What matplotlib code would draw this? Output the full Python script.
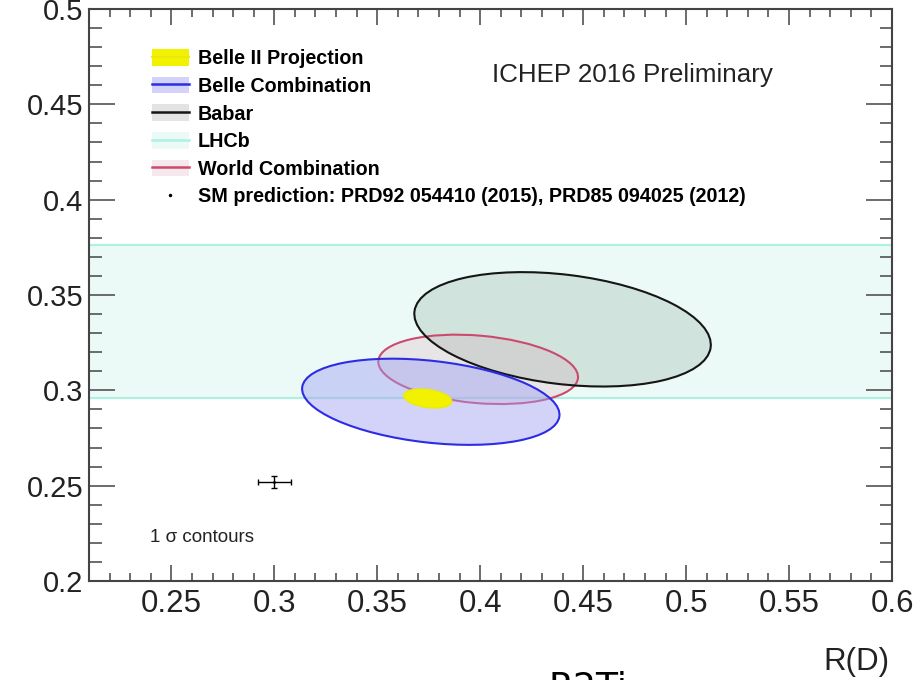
import numpy as np
import matplotlib
matplotlib.use('Agg')
import matplotlib.pyplot as plt
from matplotlib.patches import Ellipse, Patch
from matplotlib.lines import Line2D
from matplotlib.ticker import MultipleLocator, FuncFormatter

plt.rcParams['font.family'] = ['Liberation Sans', 'DejaVu Sans']

# 1 sigma contours: R(D) centre / error, R(D*) centre / error, correlation
belle2 = [0.3745, 0.0117, 0.2957, 0.0050, -0.30]
belle = [0.376, 0.0625, 0.2940, 0.0226, -0.30]
babar = [0.440, 0.072, 0.332, 0.030, -0.27]
world = [0.399, 0.0485, 0.3110, 0.0182, -0.22]

# LHCb only measures R(D*)
lhcb_rdst = 0.336
lhcb_err = 0.040

# SM prediction
sm_rd, sm_rd_err = 0.300, 0.008
sm_rdst, sm_rdst_err = 0.252, 0.003

labels = ['Belle II Projection', 'Belle Combination', 'Babar', 'LHCb',
          'World Combination',
          'SM prediction: PRD92 054410 (2015), PRD85 094025 (2012)']


def cov_ellipse(par, **kw):
    cx, sx, cy, sy, rho = par
    cov = np.array([[sx * sx, rho * sx * sy], [rho * sx * sy, sy * sy]])
    vals, vecs = np.linalg.eigh(cov)
    order = vals.argsort()[::-1]
    vals, vecs = vals[order], vecs[:, order]
    angle = np.degrees(np.arctan2(vecs[1, 0], vecs[0, 0]))
    return Ellipse((cx, cy), 2 * np.sqrt(vals[0]), 2 * np.sqrt(vals[1]),
                   angle=angle, **kw)


fig = plt.figure(figsize=(9.16, 6.8), dpi=100)
ax = fig.add_axes([89 / 916, 99 / 680, 803 / 916, 572 / 680])
ax.set_xlim(0.21, 0.6)
ax.set_ylim(0.2, 0.5)

# colours: fill, edge
c_b2 = ('#f2f200', '#eaea10')
c_belle = ('#9f9ff2', '#2c2ce6')
c_babar = ('#96b4a6', '#151515')
c_lhcb = ('#d6f6ef', '#aef0e2')
c_world = ('#d8a4b4', '#cc4a6e')

# LHCb band
ax.axhspan(lhcb_rdst - lhcb_err, lhcb_rdst + lhcb_err, color=c_lhcb[0],
           alpha=0.45, lw=0, zorder=1)
ax.axhline(lhcb_rdst - lhcb_err, color=c_lhcb[1], lw=1.6, zorder=1.5)
ax.axhline(lhcb_rdst + lhcb_err, color=c_lhcb[1], lw=1.6, zorder=1.5)

ax.add_patch(cov_ellipse(babar, facecolor=c_babar[0], alpha=0.32,
                         edgecolor='none', zorder=2))
ax.add_patch(cov_ellipse(babar, facecolor='none', edgecolor=c_babar[1],
                         lw=1.5, zorder=4))
ax.add_patch(cov_ellipse(world, facecolor=c_world[0], alpha=0.24,
                         edgecolor='none', zorder=3))
ax.add_patch(cov_ellipse(world, facecolor='none', edgecolor=c_world[1],
                         lw=1.5, zorder=3.5))
ax.add_patch(cov_ellipse(belle, facecolor=c_belle[0], alpha=0.45,
                         edgecolor='none', zorder=5))
ax.add_patch(cov_ellipse(belle, facecolor='none', edgecolor=c_belle[1],
                         lw=1.5, zorder=5.5))
ax.add_patch(cov_ellipse(belle2, facecolor=c_b2[0], edgecolor=c_b2[1],
                         lw=1.0, zorder=6))

ax.errorbar(sm_rd, sm_rdst, xerr=sm_rd_err, yerr=sm_rdst_err, fmt='.',
            color='k', ms=2, elinewidth=1.0, capsize=2.5, capthick=1.0,
            zorder=7)

# legend: filled box with the contour line through it
handles = [
    (Patch(facecolor=c_b2[0], edgecolor='none'),
     Line2D([], [], color=c_b2[1], lw=1.5)),
    (Patch(facecolor=c_belle[0], alpha=0.45, edgecolor='none'),
     Line2D([], [], color=c_belle[1], lw=1.8)),
    (Patch(facecolor='#a8a8a8', alpha=0.32, edgecolor='none'),
     Line2D([], [], color=c_babar[1], lw=1.8)),
    (Patch(facecolor=c_lhcb[0], alpha=0.45, edgecolor='none'),
     Line2D([], [], color=c_lhcb[1], lw=1.8)),
    (Patch(facecolor=c_world[0], alpha=0.24, edgecolor='none'),
     Line2D([], [], color=c_world[1], lw=1.8)),
    Line2D([], [], marker='.', color='k', ls='none', ms=3),
]
ax.legend(handles, labels, loc='upper left', bbox_to_anchor=(0.0785, 0.93),
          frameon=False, prop={'weight': 'bold', 'size': 14.2},
          handlelength=1.85, handleheight=0.93, labelspacing=0.43,
          handletextpad=0.46, borderpad=0, borderaxespad=0)

ax.text(0.502, 0.872, 'ICHEP 2016 Preliminary', transform=ax.transAxes,
        fontsize=18.7, color='#222222', va='baseline')
ax.text(0.076, 0.068, '1 σ contours', transform=ax.transAxes,
        fontsize=13.5, color='#222222', va='baseline')

fig.text(890 / 916, 10 / 680, 'R(D)', ha='right', va='baseline',
         fontsize=22.5, color='#222222')
fig.text(548 / 916, -18 / 680, 'R2Ti', ha='left', va='baseline',
         fontsize=26, family='DejaVu Sans', color='black')

# axes frame and ticks
for s in ax.spines.values():
    s.set_color('#444444')
    s.set_linewidth(1.5)
ax.xaxis.set_major_locator(MultipleLocator(0.05))
ax.xaxis.set_minor_locator(MultipleLocator(0.01))
ax.yaxis.set_major_locator(MultipleLocator(0.05))
ax.yaxis.set_minor_locator(MultipleLocator(0.01))
fmt = FuncFormatter(lambda v, p: '%g' % round(v, 4))
ax.xaxis.set_major_formatter(fmt)
ax.yaxis.set_major_formatter(fmt)
ax.tick_params(which='both', direction='in', top=True, right=True,
               color='#444444', width=1.1, labelcolor='#222222')
ax.tick_params(axis='x', which='major', length=11.5, pad=6, labelsize=22.5)
ax.tick_params(axis='x', which='minor', length=5.8)
ax.tick_params(axis='y', which='major', length=18.5, pad=4, labelsize=21)
ax.tick_params(axis='y', which='minor', length=9)

fig.savefig('out.png', dpi=100)
